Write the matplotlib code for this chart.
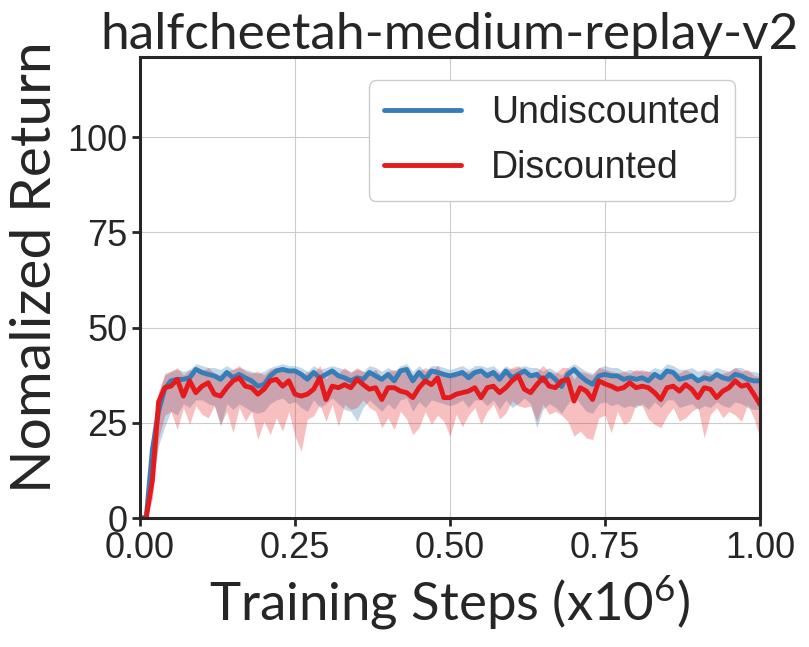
import numpy as np
import matplotlib
matplotlib.use("Agg")
import matplotlib.pyplot as plt
import seaborn as sns

# pasos de entrenamiento (x1e6)
steps = np.linspace(0, 1, 101)

undisc_mean = [0, 0, 18, 28, 34, 36, 36.4, 36.4, 36.8, 39,
               38.2, 37.7, 37.3, 36.4, 38.2, 36.8, 37.7, 36.8, 36, 34.6,
               35, 37.3, 38.6, 39, 38.6, 38.6, 37.7, 36.4, 38.2, 36.8,
               37.7, 38.6, 37.3, 36.8, 36, 36.8, 36.4, 38.2, 37.3, 36.4,
               37.7, 36, 38.6, 39, 36, 38.2, 36.4, 38.6, 38.2, 37.7,
               37.3, 37.7, 38.2, 36.8, 38.2, 38.6, 37.3, 38.2, 36.4, 38.6,
               36.8, 37.7, 38.6, 37.3, 37.7, 36, 37.7, 36.4, 34.5, 37.7,
               39, 37.3, 36, 35.1, 37.3, 37.7, 37.3, 37.3, 36.4, 36.8,
               36.4, 36.8, 36, 37.7, 36.8, 38.6, 38.2, 36.4, 36.8, 37.3,
               36, 36.8, 36.4, 37.7, 36.8, 36.4, 37.7, 37.3, 36.4, 36,
               36]
undisc_lo = [0, 0, 10, 19, 24, 28, 27, 30, 29, 31,
             31, 30, 29.5, 24, 30, 28.5, 30, 29, 28, 27.5,
             28, 30, 31, 31.5, 30, 30.5, 29, 28, 31, 29,
             30, 31.5, 30, 28.5, 28, 25.4, 29, 31, 29.5, 28,
             30, 28.5, 31, 31.5, 28, 30.5, 29, 31, 30.5, 30,
             29.5, 30, 31, 29, 31, 31, 29.5, 31, 28.5, 31,
             29, 30, 31.5, 30, 23.7, 28.5, 30, 29, 27.5, 30,
             32, 30, 28, 27.5, 30, 30.5, 29.5, 30, 29, 29.5,
             29, 30, 28.5, 30.5, 29, 31, 31, 29, 29.5, 30,
             28.5, 29.5, 29, 30.5, 29.5, 29, 30.5, 30, 29, 28.5,
             28.5]
undisc_hi = [0, 0, 24, 33, 37.5, 38.5, 39, 38.5, 39, 40.5,
             40, 39.5, 39.5, 39, 40, 39, 39.5, 39, 38.5, 38,
             38.5, 39.5, 40, 40.5, 40, 40, 39.5, 38.5, 40, 39,
             39.5, 40, 39.5, 39, 38.5, 39, 38.5, 40, 39.5, 38.5,
             39.5, 38.5, 40, 40.5, 38.5, 40, 38.5, 40, 40, 39.5,
             39, 39.5, 40, 39, 40, 40, 39.5, 40, 38.5, 40,
             39, 39.5, 40, 39.5, 39.5, 38.5, 39.5, 38.5, 37.5, 39.5,
             40.5, 39.5, 38.5, 38, 39.5, 40, 39.5, 39.5, 38.5, 39,
             38.5, 39, 38.5, 39.5, 39, 40.5, 40, 39, 39, 39.5,
             38.5, 39, 38.5, 39.5, 39, 38.5, 39.5, 39.5, 38.5, 38.5,
             38]

disc_mean = [0, 0, 10, 30.5, 34.2, 34.6, 36.4, 32, 36, 32.9,
             34.6, 35.5, 32.5, 32, 34.2, 36, 36.8, 34.6, 34.2, 32.5,
             33.8, 36, 36.4, 34.6, 36, 32.5, 32, 32.5, 33.8, 36.8,
             31.1, 34.6, 34.2, 35, 34.2, 36.4, 35, 33.8, 34.2, 31.1,
             34.2, 34.2, 33.3, 32.9, 31.6, 34.2, 36, 35, 36.8, 31.6,
             31.6, 32.5, 32.9, 33.3, 34.2, 31.6, 34.2, 34.6, 32.9, 34.2,
             36, 37.3, 33.8, 32.9, 35, 36.8, 34.6, 34.2, 36, 36.4,
             30.7, 34.2, 33.3, 31.1, 36, 35.2, 34.6, 33.8, 34.2, 35.5,
             34.2, 34.6, 34.2, 32.9, 31.1, 34.2, 34.6, 33.3, 35, 33.8,
             31.6, 34.2, 33.8, 31.6, 33.3, 34.2, 36, 34.6, 35, 32.5,
             29.8]
disc_lo = [0, 0, 5, 21, 27, 28, 23.2, 29, 24.6, 29.5,
           27.2, 26.3, 29.5, 24.6, 28, 22.4, 29, 25.4, 28, 20.6,
           25.4, 21.9, 26.3, 22.8, 28, 21.5, 17.5, 26, 26.8, 29.8,
           25.4, 29.8, 24.1, 29.8, 28.5, 29, 31, 29, 28, 23.7,
           26.3, 23.2, 28, 26, 21.9, 23.7, 28, 24.6, 27, 25.4,
           21.5, 27.2, 24, 27, 29, 24.6, 28, 29.8, 26, 27.5,
           30.7, 29.5, 29, 29.4, 25.4, 29.8, 27.2, 28, 27, 25.4,
           21.5, 22.8, 21, 20.6, 26.3, 27, 22.4, 28, 24.6, 25.5,
           29.8, 29.4, 26, 24.6, 23.7, 26.8, 29, 25.4, 26.3, 28,
           29, 21, 27.2, 29, 26.3, 28, 27, 25.4, 29.8, 26.3,
           21]
disc_hi = [0, 0, 15, 33, 38, 38.5, 39.5, 37.5, 39, 38,
           38.5, 39.5, 38, 37.5, 38.5, 39, 40, 38.5, 38, 38.5,
           37.5, 39, 39.5, 38.5, 39, 38, 37, 38.5, 38, 40,
           36.5, 39, 38, 39.5, 38, 39.5, 38.5, 38, 39, 37,
           38.5, 39, 38, 38.5, 37.5, 38.5, 39.5, 38.5, 40, 37,
           37.5, 38, 38.5, 38.5, 39, 37.5, 38.5, 39, 38, 38.5,
           39.5, 40, 38.5, 37.5, 38.5, 40, 38.5, 38, 39.5, 39.5,
           36.5, 38.5, 38, 37.5, 39.5, 39, 38.5, 38, 38.5, 38,
           39, 38.5, 38.5, 38, 37, 38.5, 38.5, 38, 39, 38,
           36.5, 38.5, 38, 37, 38, 38.5, 39.5, 38.5, 39, 37.5,
           37]

xticks = [0, 0.25, 0.5, 0.75, 1.0]
yticks = [0, 25, 50, 75, 100]

sns.set_style("whitegrid")
plt.rcParams["font.family"] = ["Liberation Sans", "DejaVu Sans"]
plt.rcParams["mathtext.fontset"] = "custom"
plt.rcParams["mathtext.rm"] = "Lato"
plt.rcParams["mathtext.it"] = "Lato:italic"
label_font = "Lato"

blue = "#377eb8"
red = "#e41a1c"

fig, ax = plt.subplots(figsize=(8.09, 6.47), dpi=100)
fig.subplots_adjust(left=140/809, right=760/809, top=1-57/647, bottom=1-518/647)

ax.fill_between(steps, undisc_lo, undisc_hi, color=blue, alpha=0.3, linewidth=0)
ax.plot(steps, undisc_mean, color=blue, lw=3.5, label="Undiscounted")
ax.fill_between(steps, disc_lo, disc_hi, color=red, alpha=0.28, linewidth=0)
ax.plot(steps, disc_mean, color=red, lw=3.5, label="Discounted")

ax.set_xlim(0, 1)
ax.set_ylim(0, 121)
ax.set_xticks(xticks)
ax.set_yticks(yticks)
ax.set_xticklabels(["%.2f" % v for v in xticks])
ax.tick_params(axis="both", labelsize=26, length=6, width=2, color="#262626",
               labelcolor="#262626", pad=3)
ax.tick_params(axis="x", bottom=True)
ax.tick_params(axis="y", left=True)

for s in ax.spines.values():
    s.set_linewidth(2.2)
    s.set_color("#262626")

ax.set_title("halfcheetah-medium-replay-v2", fontsize=37, family=label_font,
             color="#262626", pad=6)
ax.set_xlabel(r"Training Steps (x$10^6$)", fontsize=38, family=label_font,
              color="#262626", labelpad=6)
ax.set_ylabel("Nomalized Return", fontsize=41, family=label_font,
              color="#262626")
ax.yaxis.set_label_coords(-0.128, 0.545)

leg = ax.legend(loc="upper right", fontsize=27, handlelength=2.05,
                handletextpad=0.8, borderpad=0.4, framealpha=1,
                bbox_to_anchor=(0.99, 0.99))
for line in leg.get_lines():
    line.set_linewidth(3.5)

fig.savefig("out.png", dpi=100)
